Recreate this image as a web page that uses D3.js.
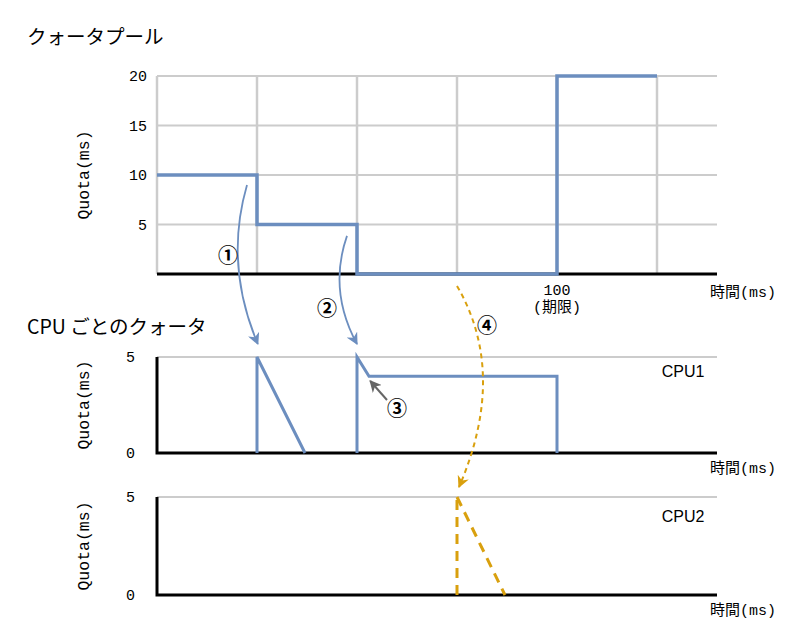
<!DOCTYPE html>
<html><head><meta charset="utf-8">
<script src="https://cdn.jsdelivr.net/npm/d3@7/dist/d3.min.js"></script>
<style>
body{margin:0;background:#fff;}
text{font-family:"Liberation Mono","Noto Sans CJK JP",monospace;}
.sans{font-family:"Liberation Sans","Noto Sans CJK JP",sans-serif;}
.cjk{font-family:"Noto Sans CJK JP",sans-serif;}
</style></head>
<body><svg id="c" width="800" height="640"></svg>
<script>
// ---- data ----
const timeGrid = [0, 25, 50, 75, 100, 125];
const timeDomain = [0, 140];
const poolTicks = [5, 10, 15, 20];
const poolTime = [0, 25, 50, 100, 125];
const poolQuota = [10, 5, 0, 20, 20];
const cpuTicks = [0, 5];
const cpu1SegA_time = [25, 25, 37];
const cpu1SegA_quota = [0, 5, 0];
const cpu1SegB_time = [50, 50, 53, 100, 100];
const cpu1SegB_quota = [0, 5, 4, 4, 0];
const cpu2Vert_time = [75, 75];
const cpu2Vert_quota = [0, 5];
const cpu2Diag_time = [75, 87];
const cpu2Diag_quota = [5, 0];
const deadlineTick = 100;
const titles = ["クォータプール", "CPU ごとのクォータ"];
const cpuNames = ["CPU1", "CPU2"];
const marks = ["①", "②", "③", "④"];

// ---- layout ----
const svg = d3.select("#c");
const x = d3.scaleLinear().domain(timeDomain).range([157, 717]);
const yPool = d3.scaleLinear().domain([0, 20]).range([274, 76]);
const yCpu1 = d3.scaleLinear().domain([0, 5]).range([453, 357]);
const yCpu2 = d3.scaleLinear().domain([0, 5]).range([595, 497]);
const BLUE = "#6c8ebf", ORANGE = "#d9a00e", GRID = "#cccccc";

const defs = svg.append("defs");
function marker(id, color, size) {
  defs.append("marker").attr("id", id).attr("viewBox", "0 0 10 10")
    .attr("refX", 9).attr("refY", 5).attr("markerWidth", size).attr("markerHeight", size)
    .attr("markerUnits", "userSpaceOnUse").attr("orient", "auto")
    .append("path").attr("d", "M0,0 L10,5 L0,10 L3,5 Z").attr("fill", color);
}
marker("mb", BLUE, 12); marker("mo", ORANGE, 12); marker("mg", "#666", 12);

// titles
svg.append("text").attr("class", "cjk").attr("x", 27).attr("y", 44).attr("font-size", 19.5).text(titles[0]);
svg.append("text").attr("class", "cjk").attr("x", 27).attr("y", 334).attr("font-size", 19.5).text(titles[1]);

// ---- pool chart ----
const gp = svg.append("g");
gp.selectAll(".hg").data(poolTicks).join("line")
  .attr("x1", x(0)).attr("x2", x(140)).attr("y1", d => yPool(d)).attr("y2", d => yPool(d))
  .attr("stroke", GRID).attr("stroke-width", 2);
gp.selectAll(".vg").data(timeGrid).join("line")
  .attr("x1", d => x(d)).attr("x2", d => x(d)).attr("y1", yPool(20)).attr("y2", yPool(0))
  .attr("stroke", GRID).attr("stroke-width", 2.5);
const yAxisPool = d3.axisLeft(yPool).tickValues(poolTicks).tickSize(0).tickPadding(0).tickFormat(d3.format("d"));
const ya = gp.append("g").attr("transform", "translate(147,0)").call(yAxisPool);
ya.select(".domain").remove();
ya.selectAll("text").attr("font-size", 15).attr("font-family", "Liberation Mono").attr("fill", "#000");
gp.append("line").attr("x1", x(0)).attr("x2", x(140)).attr("y1", yPool(0)).attr("y2", yPool(0))
  .attr("stroke", "#000").attr("stroke-width", 3);
const poolData = poolTime.map((t, i) => [t, poolQuota[i]]);
gp.append("path").datum(poolData)
  .attr("d", d3.line().x(d => x(d[0])).y(d => yPool(d[1])).curve(d3.curveStepAfter))
  .attr("fill", "none").attr("stroke", BLUE).attr("stroke-width", 3.5);
gp.append("text").attr("x", x(deadlineTick)).attr("y", 295).attr("text-anchor", "middle").attr("font-size", 15).text(deadlineTick);
gp.append("text").attr("x", x(deadlineTick)).attr("y", 312).attr("text-anchor", "middle").attr("font-size", 15).text("(期限)");
gp.append("text").attr("x", 710).attr("y", 297).attr("font-size", 15).text("時間(ms)");
gp.append("text").attr("transform", `translate(89,${(yPool(0) + yPool(20)) / 2}) rotate(-90)`)
  .attr("text-anchor", "middle").attr("font-size", 16.5).text("Quota(ms)");

// ---- cpu charts ----
function cpuChart(y, name, labelY) {
  const g = svg.append("g");
  g.append("line").attr("x1", x(0)).attr("x2", x(140)).attr("y1", y(5)).attr("y2", y(5))
    .attr("stroke", GRID).attr("stroke-width", 2);
  const ax = g.append("g").attr("transform", "translate(135,0)")
    .call(d3.axisLeft(y).tickValues(cpuTicks).tickSize(0).tickPadding(0).tickFormat(d3.format("d")));
  ax.select(".domain").remove();
  ax.selectAll("text").attr("font-size", 15).attr("font-family", "Liberation Mono").attr("fill", "#000");
  g.append("path").attr("d", `M${x(0)},${y(5)}V${y(0)}H${x(140)}`)
    .attr("fill", "none").attr("stroke", "#000").attr("stroke-width", 3);
  g.append("text").attr("x", 710).attr("y", y(0) + 20).attr("font-size", 15).text("時間(ms)");
  g.append("text").attr("transform", `translate(89,${(y(0) + y(5)) / 2}) rotate(-90)`)
    .attr("text-anchor", "middle").attr("font-size", 16.5).text("Quota(ms)");
  g.append("text").attr("class", "sans").attr("x", 683).attr("y", labelY).attr("text-anchor", "middle")
    .attr("font-size", 16).text(name);
  return g;
}
const g1 = cpuChart(yCpu1, cpuNames[0], 377);
const g2 = cpuChart(yCpu2, cpuNames[1], 522);

const line1 = d3.line().x(d => x(d[0])).y(d => yCpu1(d[1]));
[[cpu1SegA_time, cpu1SegA_quota], [cpu1SegB_time, cpu1SegB_quota]].forEach(([ts, qs]) => {
  g1.append("path").datum(ts.map((t, i) => [t, qs[i]])).attr("d", line1)
    .attr("fill", "none").attr("stroke", BLUE).attr("stroke-width", 3);
});
const line2 = d3.line().x(d => x(d[0])).y(d => yCpu2(d[1]));
[[cpu2Vert_time, cpu2Vert_quota], [cpu2Diag_time, cpu2Diag_quota]].forEach(([ts, qs]) => {
  g2.append("path").datum(ts.map((t, i) => [t, qs[i]])).attr("d", line2)
    .attr("fill", "none").attr("stroke", ORANGE).attr("stroke-width", 3).attr("stroke-dasharray", "10,7");
});

// ---- annotations ----
const ann = svg.append("g");
function curve(p0, c, p1, color, mk, dash) {
  const p = d3.path(); p.moveTo(p0[0], p0[1]); p.quadraticCurveTo(c[0], c[1], p1[0], p1[1]);
  const e = ann.append("path").attr("d", p.toString()).attr("fill", "none").attr("stroke", color)
    .attr("stroke-width", dash ? 2 : 1.8).attr("marker-end", `url(#${mk})`);
  if (dash) e.attr("stroke-dasharray", "5,4");
}
curve([x(22.5), yPool(9)], [x(16.75), yPool(1)], [x(25.2), yCpu1(5) - 13], BLUE, "mb");
curve([x(47.5), yPool(3.85)], [x(42.75), yPool(-1.67)], [x(50), yCpu1(5) - 13], BLUE, "mb");
curve([x(75), yPool(-1.2)], [x(87.75), yCpu1(4.14)], [x(75.5), yCpu2(5) - 10], ORANGE, "mo", true);
ann.append("line").attr("x1", x(57.5)).attr("y1", yCpu1(2.76)).attr("x2", x(53.3)).attr("y2", yCpu1(3.75))
  .attr("stroke", "#666").attr("stroke-width", 2).attr("marker-end", "url(#mg)");
const markPos = [[17.75, yPool(1.8)], [42.5, yPool(-3.5)], [60, yCpu1(2.3)], [82.5, yPool(-5.25)]];
ann.selectAll(".mk").data(marks).join("text").attr("class", "cjk")
  .attr("x", (d, i) => x(markPos[i][0])).attr("y", (d, i) => markPos[i][1] + 7)
  .attr("text-anchor", "middle").attr("font-size", 20).attr("font-weight", "bold").text(d => d);
</script></body></html>
